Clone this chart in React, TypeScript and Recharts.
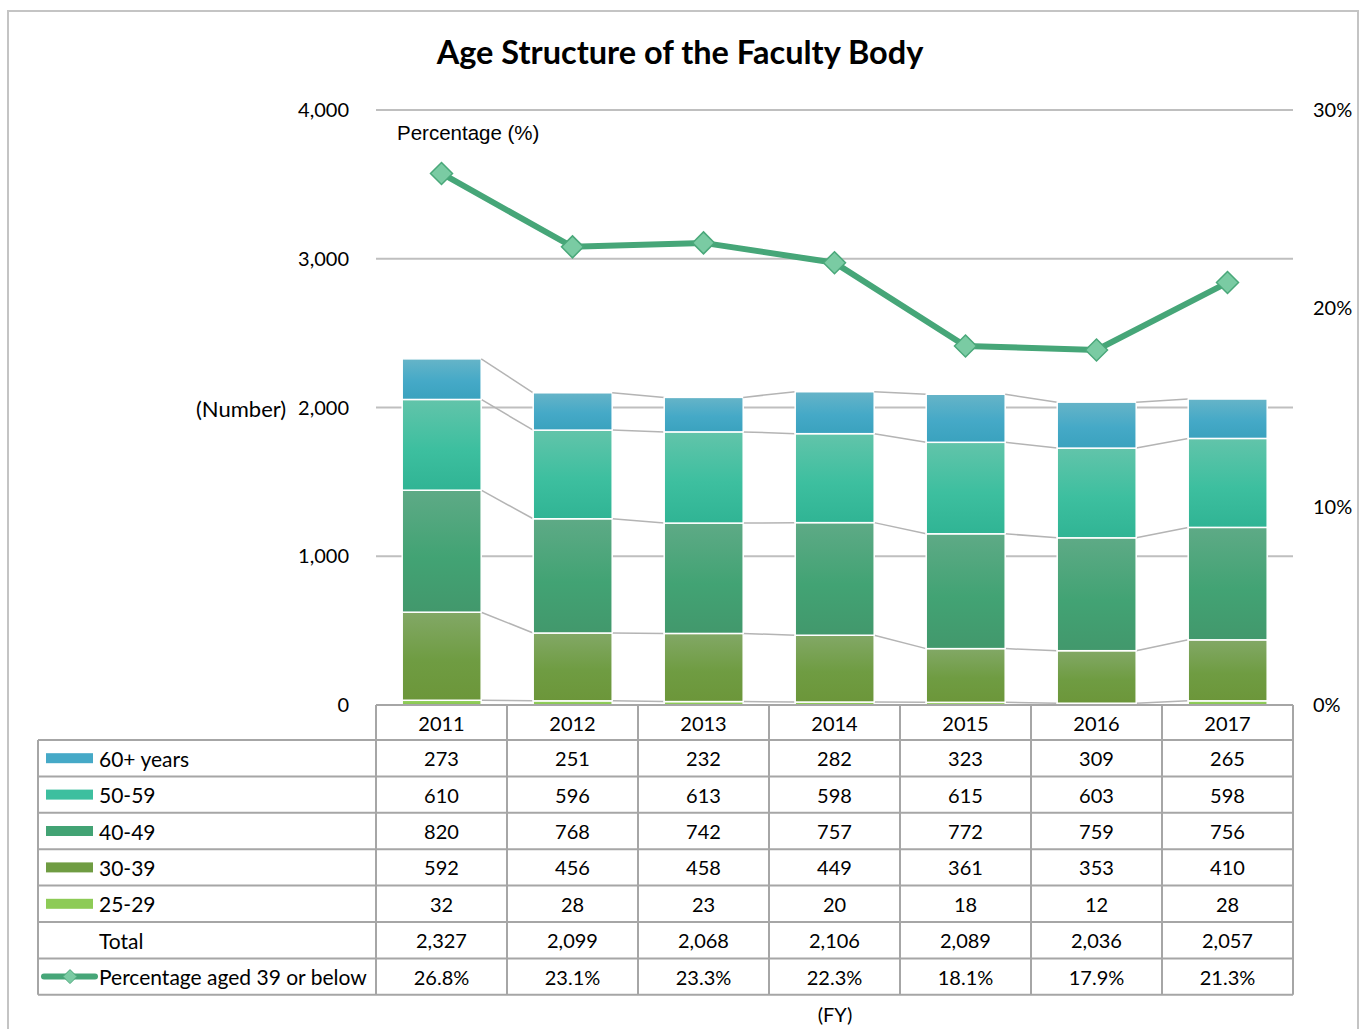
import React from 'react';
import { ComposedChart, Bar, Line, XAxis, YAxis, CartesianGrid } from 'recharts';

const fiscalYears = ['2011', '2012', '2013', '2014', '2015', '2016', '2017'];
const age60Plus = [273, 251, 232, 282, 323, 309, 265];
const age50to59 = [610, 596, 613, 598, 615, 603, 598];
const age40to49 = [820, 768, 742, 757, 772, 759, 756];
const age30to39 = [592, 456, 458, 449, 361, 353, 410];
const age25to29 = [32, 28, 23, 20, 18, 12, 28];
const totals = [2327, 2099, 2068, 2106, 2089, 2036, 2057];
const pctAged39OrBelow = [26.8, 23.1, 23.3, 22.3, 18.1, 17.9, 21.3];
const countTicks = [0, 1000, 2000, 3000, 4000];
const pctTicks = [0, 10, 20, 30];

// bottom -> top stacking order
const stackSeries = [
  { key: 'a25', name: '25-29', values: age25to29, top: '#96d264', bottom: '#86c44e', swatch: '#8dcb56' },
  { key: 'a30', name: '30-39', values: age30to39, top: '#82a866', bottom: '#6c963a', swatch: '#6f9c42' },
  { key: 'a40', name: '40-49', values: age40to49, top: '#5eaa86', bottom: '#42986c', swatch: '#42a374' },
  { key: 'a50', name: '50-59', values: age50to59, top: '#62c4aa', bottom: '#30b494', swatch: '#3dbf9f' },
  { key: 'a60', name: '60+ years', values: age60Plus, top: '#66b4c8', bottom: '#3aa2be', swatch: '#45a9c7' },
];

const data = fiscalYears.map((fy, i) => {
  const row: Record<string, any> = { fy, pct: pctAged39OrBelow[i] };
  stackSeries.forEach((s) => (row[s.key] = s.values[i]));
  return row;
});

const W = 1360;
const H = 1029;
const PLOT_LEFT = 376;
const PLOT_RIGHT = 1293;
const PLOT_TOP = 110;
const PLOT_BOTTOM = 705;
const AXIS_W = 60;
const STEP = (PLOT_RIGHT - PLOT_LEFT) / fiscalYears.length;
const TABLE_LEFT = 38;
const HEADER_H = 35;
const ROW_H = 36.4;

const FONT = 'Lato, "Open Sans", sans-serif';
const LINE_COLOR = '#46a678';
const GRID = '#bfbfbf';
const TABLE_LINE = '#a6a6a6';

const cumulative = (level: number, i: number) =>
  stackSeries.slice(0, level + 1).reduce((acc, s) => acc + s.values[i], 0);

const makeSegmentShape = (level: number) => (props: any) => {
  const { x, y, width, height, index, fill } = props;
  const val = stackSeries[level].values[index];
  const ppu = val ? height / val : 0;
  let connector = null;
  if (index < fiscalYears.length - 1) {
    const yNext = y + (cumulative(level, index) - cumulative(level, index + 1)) * ppu;
    connector = (
      <line x1={x + width} y1={y} x2={x + STEP} y2={yNext} stroke="#b4b4b4" strokeWidth={1.5} />
    );
  }
  return (
    <g>
      <rect x={x} y={y} width={width} height={height} fill={fill} stroke="#ffffff" strokeWidth={1.5} />
      {connector}
    </g>
  );
};

const Diamond = (props: any) => {
  const { cx, cy } = props;
  if (cx == null || cy == null) return null;
  const r = 11;
  return (
    <polygon
      points={`${cx},${cy - r} ${cx + r},${cy} ${cx},${cy + r} ${cx - r},${cy}`}
      fill="#7acba3"
      stroke="#4aa87a"
      strokeWidth={1.5}
    />
  );
};

function DataTable() {
  const colEdges = [TABLE_LEFT, ...Array.from({ length: fiscalYears.length + 1 }, (_, i) => PLOT_LEFT + i * STEP)];
  const bodyTop = PLOT_BOTTOM + HEADER_H;
  const rowEdges = Array.from({ length: 8 }, (_, r) => bodyTop + r * ROW_H);
  const bottom = rowEdges[rowEdges.length - 1];
  const colCenter = (i: number) => PLOT_LEFT + (i + 0.5) * STEP;
  const rowCenter = (r: number) => bodyTop + (r + 0.5) * ROW_H;

  const rows = [
    ...[...stackSeries].reverse().map((s) => ({
      label: s.name,
      swatch: s.swatch,
      cells: s.values.map((v) => v.toLocaleString('en-US')),
    })),
    { label: 'Total', swatch: null, cells: totals.map((v) => v.toLocaleString('en-US')) },
    { label: 'Percentage aged 39 or below', swatch: 'line', cells: pctAged39OrBelow.map((v) => `${v.toFixed(1)}%`) },
  ];

  const textStyle = { fontFamily: FONT, fontSize: 20, fill: '#000' } as const;
  const labelStyle = { fontFamily: FONT, fontSize: 21, fill: '#000' } as const;

  return (
    <svg width={W} height={H} style={{ position: 'absolute', left: 0, top: 0 }}>
      {/* header row lines */}
      <line x1={PLOT_LEFT} y1={PLOT_BOTTOM} x2={PLOT_RIGHT} y2={PLOT_BOTTOM} stroke={TABLE_LINE} strokeWidth={2} />
      {colEdges.slice(1).map((x, i) => (
        <line key={`v${i}`} x1={x} y1={PLOT_BOTTOM} x2={x} y2={bottom} stroke={TABLE_LINE} strokeWidth={2} />
      ))}
      <line x1={TABLE_LEFT} y1={bodyTop} x2={TABLE_LEFT} y2={bottom} stroke={TABLE_LINE} strokeWidth={2} />
      {rowEdges.map((y, r) => (
        <line key={`h${r}`} x1={TABLE_LEFT} y1={y} x2={PLOT_RIGHT} y2={y} stroke={TABLE_LINE} strokeWidth={2} />
      ))}
      {fiscalYears.map((fy, i) => (
        <text key={fy} x={colCenter(i)} y={PLOT_BOTTOM + HEADER_H / 2} textAnchor="middle" dominantBaseline="central" {...textStyle}>
          {fy}
        </text>
      ))}
      {rows.map((row, r) => (
        <g key={row.label}>
          {row.swatch === 'line' ? (
            <g>
              <line x1={TABLE_LEFT + 6} y1={rowCenter(r)} x2={TABLE_LEFT + 57} y2={rowCenter(r)} stroke={LINE_COLOR} strokeWidth={6} strokeLinecap="round" />
              <polygon
                points={`${TABLE_LEFT + 32},${rowCenter(r) - 7} ${TABLE_LEFT + 39},${rowCenter(r)} ${TABLE_LEFT + 32},${rowCenter(r) + 7} ${TABLE_LEFT + 25},${rowCenter(r)}`}
                fill="#7acba3"
                stroke="#4aa87a"
                strokeWidth={1}
              />
            </g>
          ) : row.swatch ? (
            <rect x={TABLE_LEFT + 8} y={rowCenter(r) - 5} width={47} height={10} fill={row.swatch} />
          ) : null}
          <text x={99} y={rowCenter(r)} dominantBaseline="central" {...labelStyle}>
            {row.label}
          </text>
          {row.cells.map((c, i) => (
            <text key={i} x={colCenter(i)} y={rowCenter(r)} textAnchor="middle" dominantBaseline="central" {...textStyle}>
              {c}
            </text>
          ))}
        </g>
      ))}
      <text x={835} y={1014} textAnchor="middle" dominantBaseline="central" {...textStyle}>
        (FY)
      </text>
    </svg>
  );
}

export default function App() {
  return (
    <div style={{ position: 'absolute', left: 0, top: 0, width: W, height: H, background: '#fff', overflow: 'hidden' }}>
      <div
        style={{
          position: 'absolute',
          left: 7,
          top: 10,
          width: 1348,
          height: 1100,
          border: '2px solid #c4c4c4',
        }}
      />
      <div
        style={{
          position: 'absolute',
          left: 0,
          top: 31,
          width: W,
          textAlign: 'center',
          fontFamily: FONT,
          fontWeight: 700,
          fontSize: 32.5,
          lineHeight: '42px',
          color: '#000',
        }}
      >
        Age Structure of the Faculty Body
      </div>
      <div style={{ position: 'absolute', left: 0, top: 0 }}>
        <ComposedChart
          width={W}
          height={H}
          data={data}
          barCategoryGap="20%"
          margin={{
            top: PLOT_TOP,
            bottom: H - PLOT_BOTTOM,
            left: PLOT_LEFT - AXIS_W,
            right: W - PLOT_RIGHT - AXIS_W,
          }}
        >
          <defs>
            {stackSeries.map((s) => (
              <linearGradient key={s.key} id={`grad-${s.key}`} x1="0" y1="0" x2="0" y2="1">
                <stop offset="0%" stopColor={s.top} />
                <stop offset="55%" stopColor={s.swatch} />
                <stop offset="100%" stopColor={s.bottom} />
              </linearGradient>
            ))}
          </defs>
          <CartesianGrid yAxisId="left" vertical={false} stroke={GRID} strokeWidth={2} />
          <XAxis dataKey="fy" hide />
          <YAxis
            yAxisId="left"
            width={AXIS_W}
            domain={[0, 4000]}
            ticks={countTicks}
            tickFormatter={(v: number) => v.toLocaleString('en-US')}
            axisLine={false}
            tickLine={false}
            tickSize={0}
            tickMargin={27}
            tick={{ fill: '#000', fontSize: 20, fontFamily: FONT }}
            interval={0}
          />
          <YAxis
            yAxisId="right"
            orientation="right"
            width={AXIS_W}
            domain={[0, 30]}
            ticks={pctTicks}
            tickFormatter={(v: number) => `${v}%`}
            axisLine={false}
            tickLine={false}
            tickSize={0}
            tickMargin={20}
            tick={{ fill: '#000', fontSize: 20, fontFamily: FONT }}
            interval={0}
          />
          {stackSeries.map((s, level) => (
            <Bar
              key={s.key}
              dataKey={s.key}
              name={s.name}
              stackId="age"
              yAxisId="left"
              fill={`url(#grad-${s.key})`}
              shape={makeSegmentShape(level)}
              isAnimationActive={false}
            />
          ))}
          <Line
            yAxisId="right"
            dataKey="pct"
            name="Percentage aged 39 or below"
            stroke={LINE_COLOR}
            strokeWidth={6}
            dot={<Diamond />}
            activeDot={false}
            isAnimationActive={false}
          />
        </ComposedChart>
      </div>
      <DataTable />
      <div
        style={{
          position: 'absolute',
          left: 397,
          top: 121,
          fontFamily: '"Liberation Sans", Arial, sans-serif',
          fontSize: 20.5,
          color: '#000',
        }}
      >
        Percentage (%)
      </div>
      <div
        style={{
          position: 'absolute',
          left: 196,
          top: 395,
          fontFamily: FONT,
          fontSize: 22,
          color: '#000',
        }}
      >
        (Number)
      </div>
    </div>
  );
}
